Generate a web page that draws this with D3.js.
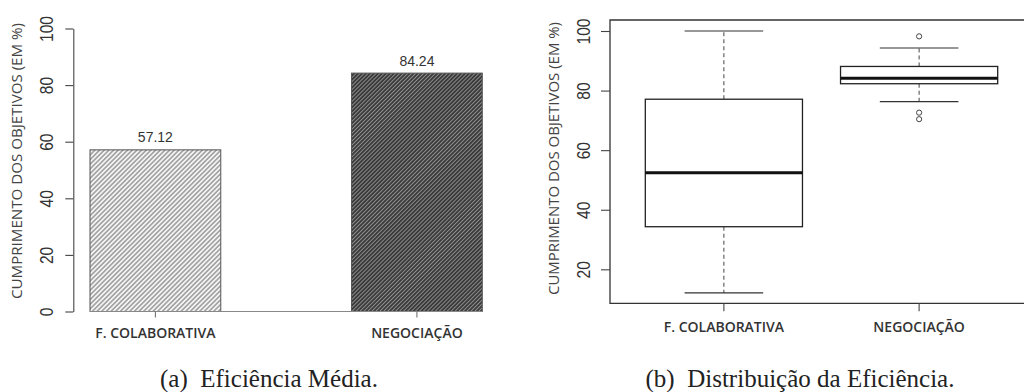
<!DOCTYPE html>
<html><head><meta charset="utf-8">
<script src="https://cdn.jsdelivr.net/npm/d3@7"></script>
<style>
html,body{margin:0;padding:0;background:#fff;}
svg{display:block;}
</style></head>
<body>
<svg id="c" width="1024" height="392"></svg>
<script>
// ---- data ----
const categories = ["F. COLABORATIVA", "NEGOCIAÇÃO"];
const meanValues = [57.12, 84.24];
const meanLabels = ["57.12", "84.24"];
const whiskerLow = [12.1, 76.3];
const q1 = [34.3, 82.3];
const median = [52.4, 84.1];
const q3 = [77.1, 88.1];
const whiskerHigh = [100, 94.3];
const outliers = [[], [98.2, 72.6, 70.4]];
const barTicks = [0, 20, 40, 60, 80, 100];
const boxTicks = [20, 40, 60, 80, 100];
const yTitle = "CUMPRIMENTO DOS OBJETIVOS (EM %)";
const captionA = "(a)\u00A0 Eficiência Média.";
const captionB = "(b)\u00A0 Distribuição da Eficiência.";

const svg = d3.select("#c");
const defs = svg.append("defs");

function hatch(id, bg, fg, step, w) {
  const p = defs.append("pattern").attr("id", id)
    .attr("patternUnits", "userSpaceOnUse")
    .attr("width", step).attr("height", step)
    .attr("patternTransform", "rotate(45)");
  p.append("rect").attr("width", step).attr("height", step).attr("fill", bg);
  p.append("line").attr("x1", step/2).attr("y1", 0).attr("x2", step/2).attr("y2", step)
    .attr("stroke", fg).attr("stroke-width", w);
}
hatch("hLight", "#f4f4f4", "#7a7a7a", 3.3, 1.1);
hatch("hDark", "#3a3a3a", "#959595", 2.8, 0.9);

const sansTick = "'Liberation Sans', Arial, sans-serif";
const sansLab = "'Open Sans', 'DejaVu Sans', sans-serif";
const tickTf = "translate(-20,0) rotate(-90) scale(0.82,1)";

// ================= (a) bar chart =================
const yA = d3.scaleLinear().domain([0, 100]).range([311.5, 28.5]);
const xA = d3.scaleBand().domain(categories).range([90, 482.3]).paddingInner(0.5).paddingOuter(0);
const gA = svg.append("g");

const axA = gA.append("g").attr("transform", "translate(73.3,0)")
  .call(d3.axisLeft(yA).tickValues(barTicks).tickSize(8).tickSizeOuter(0));
axA.select(".domain").attr("stroke", "#444").attr("stroke-width", 1.1);
axA.selectAll(".tick line").attr("stroke", "#444").attr("stroke-width", 1.1);
axA.selectAll(".tick text").attr("x", null).attr("dy", null)
  .attr("text-anchor", "middle")
  .attr("transform", tickTf)
  .style("font-family", sansTick).style("font-size", "19px").attr("fill", "#333");

const fills = ["url(#hLight)", "url(#hDark)"];
gA.selectAll("rect.bar").data(categories).join("rect").attr("class", "bar")
  .attr("x", d => xA(d)).attr("width", xA.bandwidth())
  .attr("y", (d, i) => yA(meanValues[i]))
  .attr("height", (d, i) => yA(0) - yA(meanValues[i]))
  .attr("fill", (d, i) => fills[i])
  .attr("stroke", "#555").attr("stroke-width", 1);

// baseline
gA.append("line").attr("x1", xA(categories[0])).attr("x2", xA(categories[1]) + xA.bandwidth())
  .attr("y1", yA(0)).attr("y2", yA(0)).attr("stroke", "#888").attr("stroke-width", 1);

// x ticks + labels
gA.selectAll("line.xt").data(categories).join("line").attr("class", "xt")
  .attr("x1", d => xA(d) + xA.bandwidth()/2).attr("x2", d => xA(d) + xA.bandwidth()/2)
  .attr("y1", yA(0)).attr("y2", yA(0) + 6).attr("stroke", "#666");
gA.selectAll("text.xl").data(categories).join("text").attr("class", "xl")
  .attr("x", d => xA(d) + xA.bandwidth()/2).attr("y", 338)
  .attr("text-anchor", "middle").style("font-family", sansLab).style("font-size", "14px")
  .style("font-weight", 600).attr("fill", "#333").text(d => d);

// value labels
gA.selectAll("text.vl").data(categories).join("text").attr("class", "vl")
  .attr("x", d => xA(d) + xA.bandwidth()/2)
  .attr("y", (d, i) => yA(meanValues[i]) - 7.5)
  .attr("text-anchor", "middle").style("font-family", sansTick).style("font-size", "14px")
  .attr("fill", "#333").text((d, i) => meanLabels[i]);

// y title
gA.append("text").attr("transform", "translate(21.5,161) rotate(-90)")
  .attr("text-anchor", "middle").style("font-family", sansLab).style("font-size", "14px")
  .attr("fill", "#444").attr("textLength", 276).attr("lengthAdjust", "spacingAndGlyphs")
  .text(yTitle);

// caption
svg.append("text").attr("x", 269).attr("y", 387).attr("text-anchor", "middle")
  .style("font-family", "'Liberation Serif', 'Times New Roman', serif").style("font-size", "25px")
  .attr("fill", "#222").text(captionA);

// ================= (b) box plot =================
const yB = d3.scaleLinear().domain([0, 100]).range([328.9, 31]);
const xB = d3.scaleBand().domain(categories).range([645.3, 997.7]).paddingInner(0.195).paddingOuter(0);
const gB = svg.append("g");

// frame
const frameL = 610, frameT = 20, frameB = 303.3, frameR = 1030;
gB.append("path").attr("d", `M${frameR},${frameT}H${frameL}V${frameB}H${frameR}`)
  .attr("fill", "none").attr("stroke", "#333").attr("stroke-width", 1.3);

const axB = gB.append("g").attr("transform", `translate(${frameL},0)`)
  .call(d3.axisLeft(yB).tickValues(boxTicks).tickSize(9).tickSizeOuter(0));
axB.select(".domain").remove();
axB.selectAll(".tick line").attr("stroke", "#444").attr("stroke-width", 1.1);
axB.selectAll(".tick text").attr("x", null).attr("dy", null)
  .attr("text-anchor", "middle")
  .attr("transform", tickTf)
  .style("font-family", sansTick).style("font-size", "19px").attr("fill", "#333");

// x ticks + labels
gB.selectAll("line.xt").data(categories).join("line").attr("class", "xt")
  .attr("x1", d => xB(d) + xB.bandwidth()/2).attr("x2", d => xB(d) + xB.bandwidth()/2)
  .attr("y1", frameB).attr("y2", frameB + 8).attr("stroke", "#444").attr("stroke-width", 1.1);
gB.selectAll("text.xl").data(categories).join("text").attr("class", "xl")
  .attr("x", d => xB(d) + xB.bandwidth()/2).attr("y", 331.5)
  .attr("text-anchor", "middle").style("font-family", sansLab).style("font-size", "14px")
  .style("font-weight", 600).attr("fill", "#333").text(d => d);

categories.forEach((c, i) => {
  const x0 = xB(c), w = xB.bandwidth(), cx = x0 + w/2;
  const g = gB.append("g");
  // whiskers (dashed)
  g.append("line").attr("x1", cx).attr("x2", cx).attr("y1", yB(q3[i])).attr("y2", yB(whiskerHigh[i]))
    .attr("stroke", "#444").attr("stroke-width", 1).attr("stroke-dasharray", "4,3");
  g.append("line").attr("x1", cx).attr("x2", cx).attr("y1", yB(q1[i])).attr("y2", yB(whiskerLow[i]))
    .attr("stroke", "#444").attr("stroke-width", 1).attr("stroke-dasharray", "4,3");
  // caps
  [whiskerHigh[i], whiskerLow[i]].forEach(v => {
    g.append("line").attr("x1", cx - w/4).attr("x2", cx + w/4).attr("y1", yB(v)).attr("y2", yB(v))
      .attr("stroke", "#333").attr("stroke-width", 1.2);
  });
  // box
  g.append("rect").attr("x", x0).attr("width", w).attr("y", yB(q3[i])).attr("height", yB(q1[i]) - yB(q3[i]))
    .attr("fill", "#fff").attr("stroke", "#222").attr("stroke-width", 1.3);
  // median
  g.append("line").attr("x1", x0).attr("x2", x0 + w).attr("y1", yB(median[i])).attr("y2", yB(median[i]))
    .attr("stroke", "#111").attr("stroke-width", 3);
  // outliers
  g.selectAll("circle").data(outliers[i]).join("circle")
    .attr("cx", cx).attr("cy", v => yB(v)).attr("r", 2.6)
    .attr("fill", "none").attr("stroke", "#444").attr("stroke-width", 1);
});

// y title
gB.append("text").attr("transform", "translate(558.5,158.5) rotate(-90)")
  .attr("text-anchor", "middle").style("font-family", sansLab).style("font-size", "14px")
  .attr("fill", "#444").attr("textLength", 273).attr("lengthAdjust", "spacingAndGlyphs")
  .text(yTitle);

// caption
svg.append("text").attr("x", 800).attr("y", 387).attr("text-anchor", "middle")
  .style("font-family", "'Liberation Serif', 'Times New Roman', serif").style("font-size", "25px")
  .attr("fill", "#222").text(captionB);
</script>
</body></html>
